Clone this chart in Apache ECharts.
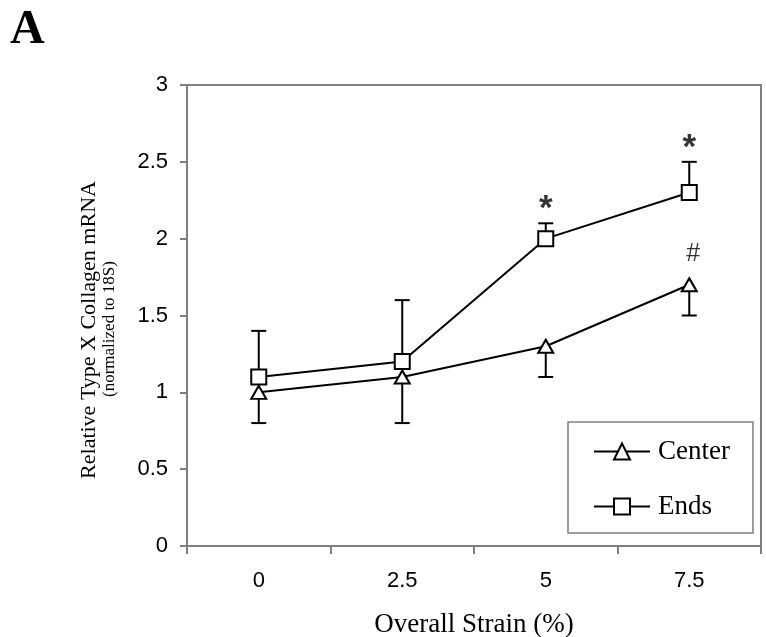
<!DOCTYPE html>
<html>
<head>
<meta charset="utf-8">
<script src="https://cdn.jsdelivr.net/npm/echarts@6/dist/echarts.min.js"></script>
<style>
html,body{margin:0;padding:0;background:#fff;}
#chart{width:766px;height:637px;}
</style>
</head>
<body>
<div id="chart"></div>
<script>
// ---- data ----
var categories = ['0', '2.5', '5', '7.5'];
var centerValues = [1.0, 1.1, 1.3, 1.7];
var centerLower = [0.8, 0.8, 1.1, 1.5];   // lower error bar ends
var endsValues = [1.1, 1.2, 2.0, 2.3];
var endsUpper = [1.4, 1.6, 2.1, 2.5];     // upper error bar ends
var yTicks = [0, 0.5, 1, 1.5, 2, 2.5, 3];
var annotCats = ['5', '7.5', '7.5'];
var annotVals = [2.23, 2.63, 1.90];
var annotTexts = ['*', '*', '#'];

var serif = '"Liberation Serif","Times New Roman",serif';
var sans = '"Liberation Sans",Arial,sans-serif';

function errData(vals, ends) {
  return vals.map(function (v, i) { return [i, v, ends[i]]; });
}
function renderErr(params, api) {
  var x = api.value(0);
  var p0 = api.coord([x, api.value(1)]);
  var p1 = api.coord([x, api.value(2)]);
  var half = 7.5;
  var st = { stroke: '#000', lineWidth: 2 };
  return {
    type: 'group',
    children: [
      { type: 'line', shape: { x1: p0[0], y1: p0[1], x2: p1[0], y2: p1[1] }, style: st },
      { type: 'line', shape: { x1: p1[0] - half, y1: p1[1], x2: p1[0] + half, y2: p1[1] }, style: st }
    ]
  };
}

var annotData = annotCats.map(function (c, i) {
  var isStar = annotTexts[i] === '*';
  return {
    value: [c, annotVals[i]],
    label: {
      formatter: annotTexts[i],
      fontSize: isStar ? 35 : 25,
      fontWeight: isStar ? 'bold' : 'normal',
      fontFamily: sans,
      offset: isStar ? [0, 6] : [4, 0]
    }
  };
});

var chart = echarts.init(document.getElementById('chart'), null, { renderer: 'canvas' });
chart.setOption({
  animation: false,
  backgroundColor: '#fff',
  grid: {
    left: 187, right: 5, top: 85, bottom: 91,
    outerBoundsMode: 'none',
    containLabel: false,
    show: true, borderColor: '#808080', borderWidth: 2, backgroundColor: 'transparent'
  },
  xAxis: {
    type: 'category',
    data: categories,
    boundaryGap: true,
    axisLine: { lineStyle: { color: '#808080', width: 2 } },
    axisTick: { show: true, inside: false, length: 8, lineStyle: { color: '#808080', width: 2 } },
    axisLabel: { color: '#000', fontSize: 22, fontFamily: sans, margin: 24 },
    name: 'Overall Strain (%)',
    nameLocation: 'middle',
    nameGap: 79,
    nameTextStyle: { color: '#000', fontSize: 27, fontFamily: serif, verticalAlign: 'middle' }
  },
  yAxis: {
    type: 'value',
    min: yTicks[0],
    max: yTicks[yTicks.length - 1],
    interval: 0.5,
    splitLine: { show: false },
    axisLine: { show: true, lineStyle: { color: '#808080', width: 2 } },
    axisTick: { show: true, inside: false, length: 7, lineStyle: { color: '#808080', width: 2 } },
    axisLabel: { color: '#000', fontSize: 22, fontFamily: sans, margin: 19 }
  },
  legend: {
    orient: 'vertical',
    left: 568, top: 422,
    padding: [16, 23, 13, 25],
    itemGap: 28,
    itemWidth: 56,
    itemHeight: 20,
    borderColor: '#808080',
    borderWidth: 1.5,
    backgroundColor: '#fff',
    data: ['Center', 'Ends'],
    textStyle: { color: '#000', fontSize: 27, fontFamily: serif, padding: [0, 0, 0, 3] }
  },
  graphic: [
    { type: 'text', left: 10, top: 7, style: { text: 'A', font: 'bold 48px ' + serif, fill: '#000' } },
    { type: 'text', x: 89, y: 330, rotation: Math.PI / 2,
      style: { text: 'Relative Type X Collagen mRNA', font: '22px ' + serif, fill: '#000', align: 'center', verticalAlign: 'middle' } },
    { type: 'text', x: 110, y: 329, rotation: Math.PI / 2,
      style: { text: '(normalized to 18S)', font: '17px ' + serif, fill: '#000', align: 'center', verticalAlign: 'middle' } }
  ],
  series: [
    { type: 'custom', name: 'errCenter', renderItem: renderErr, data: errData(centerValues, centerLower), z: 1, silent: true },
    { type: 'custom', name: 'errEnds', renderItem: renderErr, data: errData(endsValues, endsUpper), z: 1, silent: true },
    {
      name: 'Center', type: 'line', data: centerValues, z: 3,
      symbol: 'triangle', symbolSize: [15, 13],
      lineStyle: { color: '#000', width: 2 },
      itemStyle: { color: '#fff', borderColor: '#000', borderWidth: 2 }
    },
    {
      name: 'Ends', type: 'line', data: endsValues, z: 3,
      symbol: 'rect', symbolSize: 15,
      lineStyle: { color: '#000', width: 2 },
      itemStyle: { color: '#fff', borderColor: '#000', borderWidth: 2 }
    },
    {
      name: 'annot', type: 'scatter', data: annotData, symbolSize: 0, z: 4, silent: true,
      label: { show: true, position: 'inside', color: '#000' }
    }
  ]
});
</script>
</body>
</html>
